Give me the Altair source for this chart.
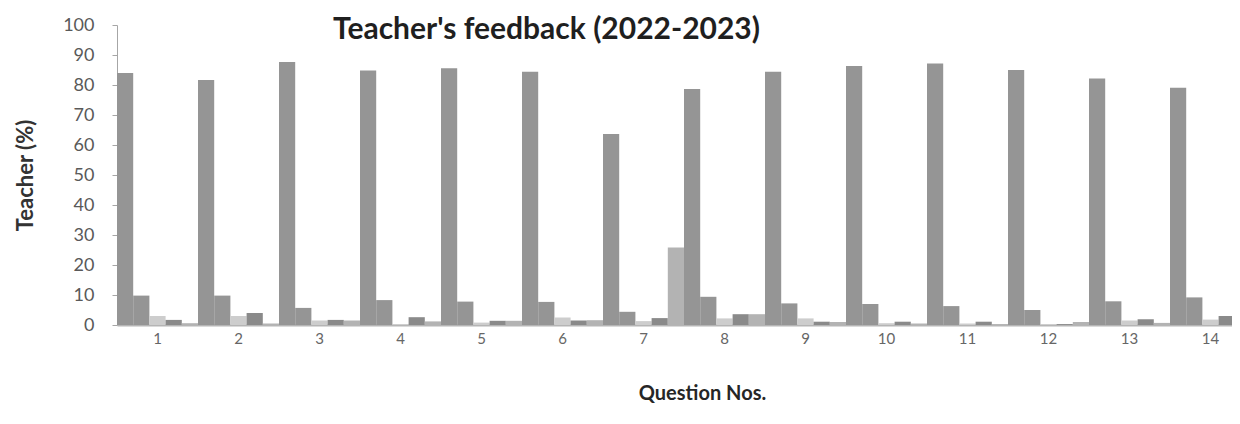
import altair as alt
import pandas as pd

questions = [str(i) for i in range(1, 15)]
series = ["S1", "S2", "S3", "S4", "S5"]
s1 = [84.0, 81.7, 87.7, 84.8, 85.6, 84.4, 63.7, 78.7, 84.4, 86.3, 87.2, 85.0, 82.2, 79.1]
s2 = [9.8, 9.8, 5.7, 8.3, 7.8, 7.7, 4.4, 9.4, 7.2, 7.0, 6.3, 5.0, 7.9, 9.2]
s3 = [3.0, 3.0, 1.5, 0.3, 0.8, 2.5, 1.3, 2.2, 2.2, 0.6, 0.5, 0.3, 1.5, 1.8]
s4 = [1.7, 4.0, 1.7, 2.6, 1.4, 1.5, 2.3, 3.6, 1.1, 1.1, 1.1, 0.3, 1.9, 3.0]
s5 = [0.6, 0.5, 1.5, 1.2, 1.4, 1.6, 25.8, 3.6, 1.0, 0.5, 0.3, 1.0, 0.7, 2.3]
colors = ["#959595", "#959595", "#cdcdcd", "#8a8a8a", "#b3b3b3"]

rows = []
for name, vals in zip(series, [s1, s2, s3, s4, s5]):
    for q, v in zip(questions, vals):
        rows.append({"q": q, "s": name, "v": v})
df = pd.DataFrame(rows)

FONT = "Lato"

chart = (
    alt.Chart(df)
    .mark_bar(clip=True)
    .encode(
        x=alt.X(
            "q:N",
            sort=questions,
            scale=alt.Scale(range=[0, 1134], paddingInner=0, paddingOuter=0),
            axis=alt.Axis(
                title="Question Nos.",
                ticks=False,
                labelAngle=0,
                labelPadding=6,
                labelFont=FONT,
                labelFontSize=15,
                labelColor="#666666",
                domainColor="#b5b5b5",
                domainWidth=2,
                titleFont=FONT,
                titleFontSize=20,
                titleFontWeight="bold",
                titleColor="#262626",
                titleX=585,
                titleY=74,
                titleBaseline="alphabetic",
                titleAnchor="middle",
                grid=False,
            ),
        ),
        xOffset=alt.XOffset(
            "s:N", sort=series, scale=alt.Scale(paddingInner=0, paddingOuter=0)
        ),
        y=alt.Y(
            "v:Q",
            scale=alt.Scale(domain=[0, 100]),
            axis=alt.Axis(
                title="Teacher (%)",
                values=list(range(0, 101, 10)),
                tickSize=5,
                tickColor="#a6a6a6",
                domainColor="#a6a6a6",
                labelPadding=18,
                labelFont=FONT,
                labelFontSize=18,
                labelColor="#595959",
                titleFont=FONT,
                titleFontSize=22,
                titleFontWeight="bold",
                titleColor="#333333",
                titleX=-92,
                titleY=150,
                titleAngle=270,
                titleAlign="center",
                titleBaseline="middle",
                grid=False,
            ),
        ),
        color=alt.Color(
            "s:N", scale=alt.Scale(domain=series, range=colors), legend=None
        ),
    )
    .properties(
        width=1115,
        height=300,
        autosize="none",
        padding={"left": 109, "top": 17, "right": 0, "bottom": 85},
        title=alt.TitleParams(
            text="Teacher's feedback (2022-2023)",
            font=FONT,
            fontSize=30,
            fontWeight="bold",
            color="#1f1f1f",
            anchor="middle",
            frame="group",
            dx=-128,
            dy=38,
            offset=-15,
            baseline="alphabetic",
        ),
    )
    .configure_view(stroke=None)
)

chart.save("out.html", embed_options={"renderer": "svg", "actions": False})
